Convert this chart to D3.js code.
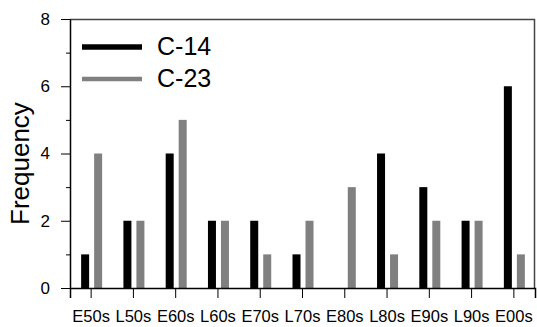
<!DOCTYPE html>
<html>
<head>
<meta charset="utf-8">
<script src="https://cdn.jsdelivr.net/npm/d3@7"></script>
<style>
  body { margin: 0; background: #fff; }
  svg { display: block; font-family: "Liberation Sans", Arial, sans-serif; }
</style>
</head>
<body>
<div id="chart"></div>
<script>
const width = 537;
const height = 327;

const categories = ["E50s", "L50s", "E60s", "L60s", "E70s", "L70s", "E80s", "L80s", "E90s", "L90s", "E00s"];
const c14 = [1, 2, 4, 2, 2, 1, 0, 4, 3, 2, 6];
const c23 = [4, 2, 5, 2, 1, 2, 3, 1, 2, 2, 1];
const seriesNames = ["C-14", "C-23"];
const seriesColors = ["#000000", "#808080"];
const yTicks = [0, 2, 4, 6, 8];

const margin = { top: 19, right: 2, bottom: 39, left: 70 };

const svg = d3.select("#chart")
  .append("svg")
  .attr("width", width)
  .attr("height", height);

const x = d3.scaleBand()
  .domain(categories)
  .range([margin.left, width - margin.right])
  .padding(0);

const y = d3.scaleLinear()
  .domain([0, 8])
  .range([height - margin.bottom, margin.top]);

// frame (top and right)
svg.append("path")
  .attr("d", `M${margin.left},${margin.top + 0.5}H${width - margin.right - 0.5}V${height - margin.bottom}`)
  .attr("fill", "none")
  .attr("stroke", "#444")
  .attr("stroke-width", 1.5);

// bars
const barW = 8;
const offsets = [-10, 3];
[c14, c23].forEach((vals, s) => {
  svg.append("g")
    .selectAll("rect")
    .data(vals)
    .enter()
    .append("rect")
    .attr("x", (d, i) => x(categories[i]) + x.bandwidth() / 2 + offsets[s])
    .attr("y", d => y(d))
    .attr("width", barW)
    .attr("height", d => y(0) - y(d))
    .attr("fill", seriesColors[s]);
});

// y axis
const yAxis = d3.axisLeft(y)
  .tickValues(d3.range(0, 9, 1))
  .tickSize(0)
  .tickFormat(d => yTicks.includes(d) ? d : "");

const gy = svg.append("g")
  .attr("transform", `translate(${margin.left},0)`)
  .call(yAxis);
gy.select(".domain").attr("stroke", "#000").attr("stroke-width", 1.5);
gy.selectAll(".tick line")
  .attr("x2", d => yTicks.includes(d) ? -9 : -4)
  .attr("stroke", "#000");
gy.selectAll(".tick text")
  .attr("x", -20)
  .attr("font-size", 17)
  .attr("fill", "#000");

// x axis
const gx = svg.append("g")
  .attr("transform", `translate(0,${y(0)})`)
  .call(d3.axisBottom(x).tickSize(10).tickPadding(12));
gx.select(".domain").attr("stroke", "#000").attr("stroke-width", 1.5);
gx.selectAll(".tick line").attr("stroke", "#000");
gx.selectAll(".tick text")
  .attr("font-size", 16.5)
  .attr("fill", "#000");

// y title
svg.append("text")
  .attr("transform", "translate(29,225) rotate(-90)")
  .attr("text-anchor", "start")
  .attr("font-size", 26)
  .text("Frequency");

// legend
const legend = svg.append("g");
seriesNames.forEach((name, i) => {
  const ly = 47 + i * 32;
  legend.append("line")
    .attr("x1", 82).attr("x2", 142)
    .attr("y1", ly).attr("y2", ly)
    .attr("stroke", seriesColors[i])
    .attr("stroke-width", i === 0 ? 5.5 : 4.5);
  legend.append("text")
    .attr("x", 157)
    .attr("y", ly + 7.5)
    .attr("font-size", 25)
    .text(name);
});
</script>
</body>
</html>
